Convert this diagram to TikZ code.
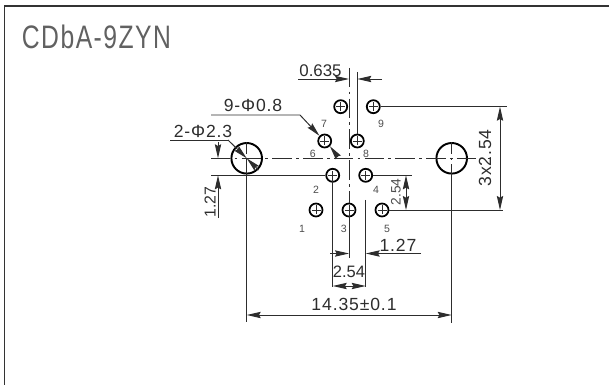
\documentclass[tikz,border=0pt]{standalone}
\usepackage{fontspec}
\setmainfont{Liberation Sans}
\usepackage{tikz}
\usetikzlibrary{arrows.meta,calc}
\definecolor{cdGray}{RGB}{45,45,45}
\tikzset{
  dimtip/.tip={Stealth[length=8pt,width=3.6pt,inset=1pt]},
  dimline/.style={cdGray, line width=0.55pt},
  dimarrow/.style={cdGray, line width=0.55pt, -dimtip},
  dimboth/.style={cdGray, line width=0.55pt, dimtip-dimtip},
  centerline/.style={cdGray, line width=0.5pt, dash pattern=on 11pt off 2.5pt on 1.5pt off 2.5pt},
  smallhole/.style={circle, draw=black, line width=1pt, minimum size=7.4pt, inner sep=0pt},
  bighole/.style={circle, draw=black, line width=1.1pt, minimum size=17.4pt, inner sep=0pt},
  dimlabel/.style={font=\fontsize{10pt}{11pt}\selectfont\addfontfeatures{LetterSpace=5}, text=cdGray, inner sep=0pt},
  pinlabel/.style={font=\fontsize{6pt}{7pt}\selectfont, text=cdGray!85, inner sep=0pt}
}
\begin{document}
\begin{tikzpicture}[x=0.02cm, y=-0.02cm]
  \useasboundingbox (0,0) rectangle (609,385);
  % Frame
  \draw[black!80, line width=0.9pt] (4.5,385) -- (4.5,6) -- (609,6);
  \node[font=\fontsize{18.5pt}{19pt}\selectfont\addfontfeatures{LetterSpace=6}, text=cdGray!75, xscale=0.76, inner sep=0pt] (title) at (96.5,37) {CDbA-9ZYN};

  % Mounting holes
  \node[bighole] (left) at (246.7,158.3) {};
  \node[bighole] (right) at (451.7,158.3) {};

  % Pin holes
  \foreach \name/\x/\y in {h1/316/210, h2/332.7/175.3, h3/349/210, h4/365.7/175.3, h5/382/210,
                           h7/324.7/141, h8/357.3/141, hA/340.7/106.7, h9/373.3/106.7}{
    \node[smallhole] (\name) at (\x,\y) {};
    \draw[cdGray, line width=0.35pt] ($(\name)+(-4.5,0)$) -- ($(\name)+(4.5,0)$);
    \draw[cdGray, line width=0.35pt] ($(\name)+(0,-4.5)$) -- ($(\name)+(0,4.5)$);
  }

  % Center lines
  \coordinate (cw) at (211,158.3);
  \coordinate (ce) at (490,158.3);
  \coordinate (cn) at (349,68);
  \coordinate (cs) at (349,258);
  \draw[centerline] (cw) -- (ce);
  \draw[centerline] (cn) -- (h3.north);
  \draw[dimline] (h3.center) -- (cs);
  \draw[dimline] (cw) -- (left.west);
  \draw[centerline, dash pattern=on 7pt off 2pt on 1.5pt off 2pt] (left.north) -- (left.south);
  \draw[centerline, dash pattern=on 7pt off 2pt on 1.5pt off 2pt] (right.north) -- (right.south);

  % Pin numbers
  \foreach \num/\x/\y in {1/302/228.7, 2/316/190, 3/343.7/228.7, 4/376/190, 5/387/228.7,
                          6/312.7/154, 7/324/124, 8/366/154, 9/381/124}
    \node[pinlabel] (n\num) at (\x,\y) {\num};

  % 0.635
  \coordinate (pa) at (298,79);
  \coordinate (pb) at (349,79);
  \coordinate (pc) at (382,79);
  \coordinate (pd) at (357.3,79);
  \coordinate (pe) at (357.3,72);
  \draw[dimarrow] (pa) -- (pb);
  \draw[dimarrow] (pc) -- (pd);
  \draw[dimline] (pe) -- (h8.north);
  \node[dimlabel, font=\fontsize{9.6pt}{10pt}\selectfont] (pitch) at (320.5,71) {0.635};

  % 9-Phi0.8
  \coordinate (la) at (211,115);
  \coordinate (lb) at (300,115);
  \coordinate (lc) at (338,157);
  \draw[dimarrow] (la) -- (lb) -- (h7.north west);
  \draw[dimarrow] (lc) -- (h7.south east);
  \node[dimlabel] (pinhole) at (253,105) {9-Φ0.8};

  % 2-Phi2.3
  \coordinate (ma) at (170,140);
  \coordinate (mb) at (228,140);
  \coordinate (mc) at (258.5,170);
  \draw[dimline] (ma) -- (mb);
  \draw[dimarrow] (mb) -- (left.center);
  \draw[dimarrow] (mc) -- (left.center);
  \node[dimlabel] (mount) at (203,131) {2-Φ2.3};

  % 1.27 left
  \coordinate (ua) at (218,142);
  \coordinate (ub) at (218,158.3);
  \coordinate (uc) at (218,218);
  \coordinate (ud) at (218,175.3);
  \coordinate (ue) at (211,175.3);
  \draw[dimarrow] (ua) -- (ub);
  \draw[dimarrow] (uc) -- (ud);
  \draw[dimline] (ue) -- (h2.west);
  \node[dimlabel, font=\fontsize{9pt}{10pt}\selectfont, rotate=90] (offset) at (210,202) {1.27};

  % 14.35
  \coordinate (wa) at (246.7,322);
  \coordinate (wb) at (451.7,323);
  \coordinate (wl) at (246.7,315);
  \coordinate (wr) at (451.7,315);
  \draw[dimline] (left.center) -- (wa);
  \draw[dimline] (right.south) -- (wb);
  \draw[dimboth] (wl) -- (wr);
  \node[dimlabel] (span) at (354,304) {14.35±0.1};

  % 2.54 and 1.27 below
  \coordinate (sa) at (332.7,287);
  \coordinate (sb) at (365.7,287);
  \coordinate (sc) at (332.7,286);
  \coordinate (sd) at (365.7,286);
  \coordinate (se) at (349,286);
  \coordinate (sf) at (365.7,200);
  \draw[dimline] (h2.center) -- (sa);
  \draw[dimline] (sf) -- (sb);
  \draw[dimarrow] (se) -- (sc);
  \draw[dimarrow] (se) -- (sd);
  \node[dimlabel, font=\fontsize{9.4pt}{10pt}\selectfont] (pitchx) at (349,272) {2.54};
  \coordinate (ta) at (330,253.5);
  \coordinate (tb) at (349,253.5);
  \coordinate (tc) at (421,253.5);
  \coordinate (td) at (365.7,253.5);
  \draw[dimarrow] (ta) -- (tb);
  \draw[dimarrow] (tc) -- (td);
  \node[dimlabel] (half) at (398,245) {1.27};

  % 2.54 right
  \coordinate (ra) at (412,175.3);
  \coordinate (rb) at (406,175.3);
  \coordinate (rc) at (406,210);
  \coordinate (rd) at (406,192.6);
  \draw[dimline] (h4.east) -- (ra);
  \draw[dimarrow] (rd) -- (rb);
  \draw[dimarrow] (rd) -- (rc);
  \node[pinlabel, font=\fontsize{7.8pt}{8pt}\selectfont, rotate=90] (pitchy) at (396,192) {2.54};

  % 3x2.54
  \coordinate (va) at (507,106.7);
  \coordinate (vb) at (503,210);
  \coordinate (vc) at (500,106.7);
  \coordinate (vd) at (500,210);
  \draw[dimline] (h9.east) -- (va);
  \draw[dimline] (h5.east) -- (vb);
  \draw[dimboth] (vc) -- (vd);
  \node[dimlabel, rotate=90] (total) at (485,158) {3x2.54};
\end{tikzpicture}
\end{document}
